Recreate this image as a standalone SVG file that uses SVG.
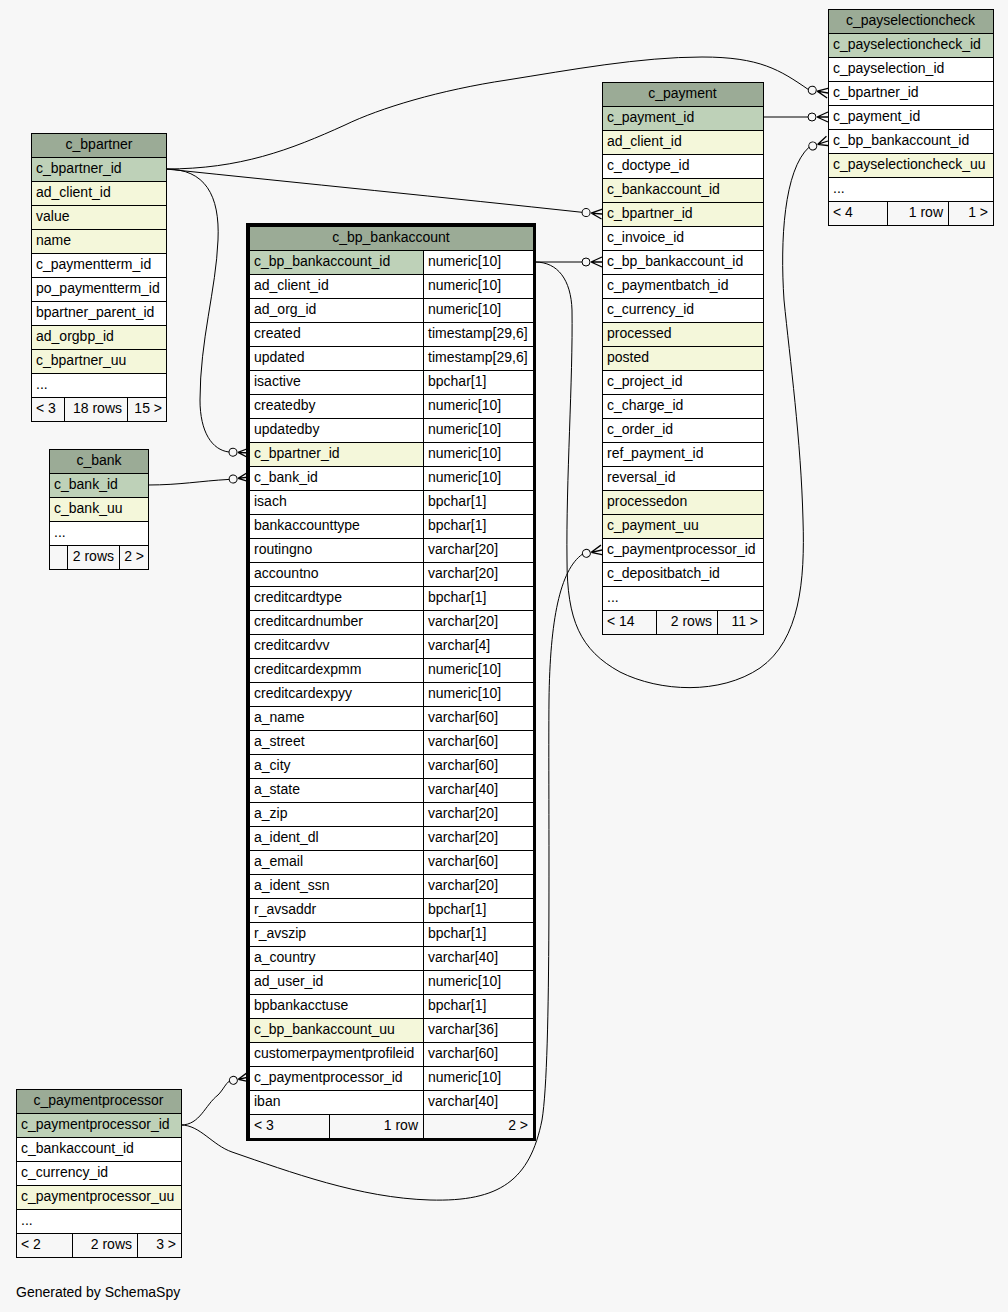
<svg xmlns="http://www.w3.org/2000/svg" width="1008" height="1312" viewBox="0 0 1008 1312">
<style>
.h,.k,.y,.w,.f{stroke:#000;stroke-width:1}
.h{fill:#9bab96}.k{fill:#bed1b8}.y{fill:#f4f7da}.w{fill:#fff}.f{fill:#f7f7f7}
.bg{fill:#f7f7f7;stroke:none}
.frame{fill:none;stroke:#000;stroke-width:3}
text{font-family:"Liberation Sans",Arial,Helvetica,sans-serif;font-size:14px;fill:#000}
.m{text-anchor:middle}.e{text-anchor:end}
.edge{fill:none;stroke:#000;stroke-width:1}
</style>
<defs>
<g id="cf">
<circle cx="-16" cy="0" r="4" fill="none" stroke="#000" stroke-width="1"/>
<path d="M-11,0 L0,-5 M-11,0 L0,0 M-11,0 L0,5" fill="none" stroke="#000" stroke-width="1.3"/>
</g>
</defs>
<rect class="bg" x="0" y="0" width="1008" height="1312"/>

<g id="connectors">
<path class="edge" d="M166,169 C240,169 290,150 345,125 C380,108 440,90 507,80 C570,70 640,57 702,57 C760,57 780,70 808.3,89.5"/>
<use href="#cf" transform="translate(828,93) rotate(10)"/>
<path class="edge" d="M166,169 C300,183 450,198 582.1,212.3"/>
<use href="#cf" transform="translate(602,214) rotate(5)"/>
<path class="edge" d="M166,169 C205,169 220,195 218,240 C216,290 200,340 200,400 C200,432 212,450 229,452"/>
<use href="#cf" transform="translate(249,453) rotate(3)"/>
<path class="edge" d="M148,485 C180,485 200,481 229.2,479.4"/>
<use href="#cf" transform="translate(249,477) rotate(-7)"/>
<path class="edge" d="M763,117 L808,117"/>
<use href="#cf" transform="translate(828,117)"/>
<path class="edge" d="M535,262 L582,262"/>
<use href="#cf" transform="translate(602,262)"/>
<path class="edge" d="M535,262 C558,262 571,280 572,310 C573,380 566,480 567,560 C567,620 580,650 620,672 C660,692 720,695 760,668 C800,640 805,580 803,520 C801,440 790,360 784,300 C780,240 784,170 809,147.2"/>
<use href="#cf" transform="translate(828,141) rotate(-18)"/>
<path class="edge" d="M181,1125 C200,1125 205,1105 218,1095 C223,1090 226,1083 229.4,1081.2"/>
<use href="#cf" transform="translate(249,1077) rotate(-12)"/>
<path class="edge" d="M181,1125 C200,1125 212,1145 232,1152 C290,1172 360,1198 430,1200 C500,1202 530,1180 542,1120 C552,1060 548,800 549,700 C550,620 560,570 582.4,554.2"/>
<use href="#cf" transform="translate(602,550) rotate(-12)"/>
</g>

<g id="c_bpartner">
<rect class="h" x="31.5" y="133.5" width="135" height="24"/><text class="m" x="99" y="149">c_bpartner</text>
<rect class="k" x="31.5" y="157.5" width="135" height="24"/><text x="36" y="173">c_bpartner_id</text>
<rect class="y" x="31.5" y="181.5" width="135" height="24"/><text x="36" y="197">ad_client_id</text>
<rect class="y" x="31.5" y="205.5" width="135" height="24"/><text x="36" y="221">value</text>
<rect class="y" x="31.5" y="229.5" width="135" height="24"/><text x="36" y="245">name</text>
<rect class="w" x="31.5" y="253.5" width="135" height="24"/><text x="36" y="269">c_paymentterm_id</text>
<rect class="w" x="31.5" y="277.5" width="135" height="24"/><text x="36" y="293">po_paymentterm_id</text>
<rect class="w" x="31.5" y="301.5" width="135" height="24"/><text x="36" y="317">bpartner_parent_id</text>
<rect class="y" x="31.5" y="325.5" width="135" height="24"/><text x="36" y="341">ad_orgbp_id</text>
<rect class="y" x="31.5" y="349.5" width="135" height="24"/><text x="36" y="365">c_bpartner_uu</text>
<rect class="w" x="31.5" y="373.5" width="135" height="24"/><text x="36" y="389">...</text>
<rect class="f" x="31.5" y="397.5" width="33" height="24"/><text x="36" y="413">&lt; 3</text>
<rect class="f" x="64.5" y="397.5" width="63" height="24"/><text class="e" x="122" y="413">18 rows</text>
<rect class="f" x="127.5" y="397.5" width="39" height="24"/><text class="e" x="162" y="413">15 &gt;</text>
</g>

<g id="c_bank">
<rect class="h" x="49.5" y="449.5" width="99" height="24"/><text class="m" x="99" y="465">c_bank</text>
<rect class="k" x="49.5" y="473.5" width="99" height="24"/><text x="54" y="489">c_bank_id</text>
<rect class="y" x="49.5" y="497.5" width="99" height="24"/><text x="54" y="513">c_bank_uu</text>
<rect class="w" x="49.5" y="521.5" width="99" height="24"/><text x="54" y="537">...</text>
<rect class="f" x="49.5" y="545.5" width="18" height="24"/>
<rect class="f" x="67.5" y="545.5" width="52" height="24"/><text class="e" x="114" y="561">2 rows</text>
<rect class="f" x="119.5" y="545.5" width="29" height="24"/><text class="e" x="144" y="561">2 &gt;</text>
</g>

<g id="c_bp_bankaccount">
<rect class="h" x="249.5" y="226.5" width="284" height="24"/><text class="m" x="391" y="242">c_bp_bankaccount</text>
<rect class="k" x="249.5" y="250.5" width="174" height="24"/><text x="254" y="266">c_bp_bankaccount_id</text><rect class="w" x="423.5" y="250.5" width="110" height="24"/><text x="428" y="266">numeric[10]</text>
<rect class="w" x="249.5" y="274.5" width="174" height="24"/><text x="254" y="290">ad_client_id</text><rect class="w" x="423.5" y="274.5" width="110" height="24"/><text x="428" y="290">numeric[10]</text>
<rect class="w" x="249.5" y="298.5" width="174" height="24"/><text x="254" y="314">ad_org_id</text><rect class="w" x="423.5" y="298.5" width="110" height="24"/><text x="428" y="314">numeric[10]</text>
<rect class="w" x="249.5" y="322.5" width="174" height="24"/><text x="254" y="338">created</text><rect class="w" x="423.5" y="322.5" width="110" height="24"/><text x="428" y="338">timestamp[29,6]</text>
<rect class="w" x="249.5" y="346.5" width="174" height="24"/><text x="254" y="362">updated</text><rect class="w" x="423.5" y="346.5" width="110" height="24"/><text x="428" y="362">timestamp[29,6]</text>
<rect class="w" x="249.5" y="370.5" width="174" height="24"/><text x="254" y="386">isactive</text><rect class="w" x="423.5" y="370.5" width="110" height="24"/><text x="428" y="386">bpchar[1]</text>
<rect class="w" x="249.5" y="394.5" width="174" height="24"/><text x="254" y="410">createdby</text><rect class="w" x="423.5" y="394.5" width="110" height="24"/><text x="428" y="410">numeric[10]</text>
<rect class="w" x="249.5" y="418.5" width="174" height="24"/><text x="254" y="434">updatedby</text><rect class="w" x="423.5" y="418.5" width="110" height="24"/><text x="428" y="434">numeric[10]</text>
<rect class="y" x="249.5" y="442.5" width="174" height="24"/><text x="254" y="458">c_bpartner_id</text><rect class="w" x="423.5" y="442.5" width="110" height="24"/><text x="428" y="458">numeric[10]</text>
<rect class="w" x="249.5" y="466.5" width="174" height="24"/><text x="254" y="482">c_bank_id</text><rect class="w" x="423.5" y="466.5" width="110" height="24"/><text x="428" y="482">numeric[10]</text>
<rect class="w" x="249.5" y="490.5" width="174" height="24"/><text x="254" y="506">isach</text><rect class="w" x="423.5" y="490.5" width="110" height="24"/><text x="428" y="506">bpchar[1]</text>
<rect class="w" x="249.5" y="514.5" width="174" height="24"/><text x="254" y="530">bankaccounttype</text><rect class="w" x="423.5" y="514.5" width="110" height="24"/><text x="428" y="530">bpchar[1]</text>
<rect class="w" x="249.5" y="538.5" width="174" height="24"/><text x="254" y="554">routingno</text><rect class="w" x="423.5" y="538.5" width="110" height="24"/><text x="428" y="554">varchar[20]</text>
<rect class="w" x="249.5" y="562.5" width="174" height="24"/><text x="254" y="578">accountno</text><rect class="w" x="423.5" y="562.5" width="110" height="24"/><text x="428" y="578">varchar[20]</text>
<rect class="w" x="249.5" y="586.5" width="174" height="24"/><text x="254" y="602">creditcardtype</text><rect class="w" x="423.5" y="586.5" width="110" height="24"/><text x="428" y="602">bpchar[1]</text>
<rect class="w" x="249.5" y="610.5" width="174" height="24"/><text x="254" y="626">creditcardnumber</text><rect class="w" x="423.5" y="610.5" width="110" height="24"/><text x="428" y="626">varchar[20]</text>
<rect class="w" x="249.5" y="634.5" width="174" height="24"/><text x="254" y="650">creditcardvv</text><rect class="w" x="423.5" y="634.5" width="110" height="24"/><text x="428" y="650">varchar[4]</text>
<rect class="w" x="249.5" y="658.5" width="174" height="24"/><text x="254" y="674">creditcardexpmm</text><rect class="w" x="423.5" y="658.5" width="110" height="24"/><text x="428" y="674">numeric[10]</text>
<rect class="w" x="249.5" y="682.5" width="174" height="24"/><text x="254" y="698">creditcardexpyy</text><rect class="w" x="423.5" y="682.5" width="110" height="24"/><text x="428" y="698">numeric[10]</text>
<rect class="w" x="249.5" y="706.5" width="174" height="24"/><text x="254" y="722">a_name</text><rect class="w" x="423.5" y="706.5" width="110" height="24"/><text x="428" y="722">varchar[60]</text>
<rect class="w" x="249.5" y="730.5" width="174" height="24"/><text x="254" y="746">a_street</text><rect class="w" x="423.5" y="730.5" width="110" height="24"/><text x="428" y="746">varchar[60]</text>
<rect class="w" x="249.5" y="754.5" width="174" height="24"/><text x="254" y="770">a_city</text><rect class="w" x="423.5" y="754.5" width="110" height="24"/><text x="428" y="770">varchar[60]</text>
<rect class="w" x="249.5" y="778.5" width="174" height="24"/><text x="254" y="794">a_state</text><rect class="w" x="423.5" y="778.5" width="110" height="24"/><text x="428" y="794">varchar[40]</text>
<rect class="w" x="249.5" y="802.5" width="174" height="24"/><text x="254" y="818">a_zip</text><rect class="w" x="423.5" y="802.5" width="110" height="24"/><text x="428" y="818">varchar[20]</text>
<rect class="w" x="249.5" y="826.5" width="174" height="24"/><text x="254" y="842">a_ident_dl</text><rect class="w" x="423.5" y="826.5" width="110" height="24"/><text x="428" y="842">varchar[20]</text>
<rect class="w" x="249.5" y="850.5" width="174" height="24"/><text x="254" y="866">a_email</text><rect class="w" x="423.5" y="850.5" width="110" height="24"/><text x="428" y="866">varchar[60]</text>
<rect class="w" x="249.5" y="874.5" width="174" height="24"/><text x="254" y="890">a_ident_ssn</text><rect class="w" x="423.5" y="874.5" width="110" height="24"/><text x="428" y="890">varchar[20]</text>
<rect class="w" x="249.5" y="898.5" width="174" height="24"/><text x="254" y="914">r_avsaddr</text><rect class="w" x="423.5" y="898.5" width="110" height="24"/><text x="428" y="914">bpchar[1]</text>
<rect class="w" x="249.5" y="922.5" width="174" height="24"/><text x="254" y="938">r_avszip</text><rect class="w" x="423.5" y="922.5" width="110" height="24"/><text x="428" y="938">bpchar[1]</text>
<rect class="w" x="249.5" y="946.5" width="174" height="24"/><text x="254" y="962">a_country</text><rect class="w" x="423.5" y="946.5" width="110" height="24"/><text x="428" y="962">varchar[40]</text>
<rect class="w" x="249.5" y="970.5" width="174" height="24"/><text x="254" y="986">ad_user_id</text><rect class="w" x="423.5" y="970.5" width="110" height="24"/><text x="428" y="986">numeric[10]</text>
<rect class="w" x="249.5" y="994.5" width="174" height="24"/><text x="254" y="1010">bpbankacctuse</text><rect class="w" x="423.5" y="994.5" width="110" height="24"/><text x="428" y="1010">bpchar[1]</text>
<rect class="y" x="249.5" y="1018.5" width="174" height="24"/><text x="254" y="1034">c_bp_bankaccount_uu</text><rect class="w" x="423.5" y="1018.5" width="110" height="24"/><text x="428" y="1034">varchar[36]</text>
<rect class="w" x="249.5" y="1042.5" width="174" height="24"/><text x="254" y="1058">customerpaymentprofileid</text><rect class="w" x="423.5" y="1042.5" width="110" height="24"/><text x="428" y="1058">varchar[60]</text>
<rect class="w" x="249.5" y="1066.5" width="174" height="24"/><text x="254" y="1082">c_paymentprocessor_id</text><rect class="w" x="423.5" y="1066.5" width="110" height="24"/><text x="428" y="1082">numeric[10]</text>
<rect class="w" x="249.5" y="1090.5" width="174" height="24"/><text x="254" y="1106">iban</text><rect class="w" x="423.5" y="1090.5" width="110" height="24"/><text x="428" y="1106">varchar[40]</text>
<rect class="f" x="249.5" y="1114.5" width="80" height="24"/><text x="254" y="1130">&lt; 3</text>
<rect class="f" x="329.5" y="1114.5" width="94" height="24"/><text class="e" x="418" y="1130">1 row</text>
<rect class="f" x="423.5" y="1114.5" width="110" height="24"/><text class="e" x="528" y="1130">2 &gt;</text>
<rect class="frame" x="247.5" y="224.5" width="287" height="915"/>
</g>

<g id="c_payment">
<rect class="h" x="602.5" y="82.5" width="161" height="24"/><text class="m" x="682.5" y="98">c_payment</text>
<rect class="k" x="602.5" y="106.5" width="161" height="24"/><text x="607" y="122">c_payment_id</text>
<rect class="y" x="602.5" y="130.5" width="161" height="24"/><text x="607" y="146">ad_client_id</text>
<rect class="w" x="602.5" y="154.5" width="161" height="24"/><text x="607" y="170">c_doctype_id</text>
<rect class="y" x="602.5" y="178.5" width="161" height="24"/><text x="607" y="194">c_bankaccount_id</text>
<rect class="y" x="602.5" y="202.5" width="161" height="24"/><text x="607" y="218">c_bpartner_id</text>
<rect class="w" x="602.5" y="226.5" width="161" height="24"/><text x="607" y="242">c_invoice_id</text>
<rect class="w" x="602.5" y="250.5" width="161" height="24"/><text x="607" y="266">c_bp_bankaccount_id</text>
<rect class="w" x="602.5" y="274.5" width="161" height="24"/><text x="607" y="290">c_paymentbatch_id</text>
<rect class="w" x="602.5" y="298.5" width="161" height="24"/><text x="607" y="314">c_currency_id</text>
<rect class="y" x="602.5" y="322.5" width="161" height="24"/><text x="607" y="338">processed</text>
<rect class="y" x="602.5" y="346.5" width="161" height="24"/><text x="607" y="362">posted</text>
<rect class="w" x="602.5" y="370.5" width="161" height="24"/><text x="607" y="386">c_project_id</text>
<rect class="w" x="602.5" y="394.5" width="161" height="24"/><text x="607" y="410">c_charge_id</text>
<rect class="w" x="602.5" y="418.5" width="161" height="24"/><text x="607" y="434">c_order_id</text>
<rect class="w" x="602.5" y="442.5" width="161" height="24"/><text x="607" y="458">ref_payment_id</text>
<rect class="w" x="602.5" y="466.5" width="161" height="24"/><text x="607" y="482">reversal_id</text>
<rect class="y" x="602.5" y="490.5" width="161" height="24"/><text x="607" y="506">processedon</text>
<rect class="y" x="602.5" y="514.5" width="161" height="24"/><text x="607" y="530">c_payment_uu</text>
<rect class="w" x="602.5" y="538.5" width="161" height="24"/><text x="607" y="554">c_paymentprocessor_id</text>
<rect class="w" x="602.5" y="562.5" width="161" height="24"/><text x="607" y="578">c_depositbatch_id</text>
<rect class="w" x="602.5" y="586.5" width="161" height="24"/><text x="607" y="602">...</text>
<rect class="f" x="602.5" y="610.5" width="54" height="24"/><text x="607" y="626">&lt; 14</text>
<rect class="f" x="656.5" y="610.5" width="61" height="24"/><text class="e" x="712" y="626">2 rows</text>
<rect class="f" x="717.5" y="610.5" width="46" height="24"/><text class="e" x="758" y="626">11 &gt;</text>
</g>

<g id="c_payselectioncheck">
<rect class="h" x="828.5" y="9.5" width="165" height="24"/><text class="m" x="910.5" y="25">c_payselectioncheck</text>
<rect class="k" x="828.5" y="33.5" width="165" height="24"/><text x="833" y="49">c_payselectioncheck_id</text>
<rect class="w" x="828.5" y="57.5" width="165" height="24"/><text x="833" y="73">c_payselection_id</text>
<rect class="w" x="828.5" y="81.5" width="165" height="24"/><text x="833" y="97">c_bpartner_id</text>
<rect class="w" x="828.5" y="105.5" width="165" height="24"/><text x="833" y="121">c_payment_id</text>
<rect class="w" x="828.5" y="129.5" width="165" height="24"/><text x="833" y="145">c_bp_bankaccount_id</text>
<rect class="y" x="828.5" y="153.5" width="165" height="24"/><text x="833" y="169">c_payselectioncheck_uu</text>
<rect class="w" x="828.5" y="177.5" width="165" height="24"/><text x="833" y="193">...</text>
<rect class="f" x="828.5" y="201.5" width="59" height="24"/><text x="833" y="217">&lt; 4</text>
<rect class="f" x="887.5" y="201.5" width="61" height="24"/><text class="e" x="943" y="217">1 row</text>
<rect class="f" x="948.5" y="201.5" width="45" height="24"/><text class="e" x="988" y="217">1 &gt;</text>
</g>

<g id="c_paymentprocessor">
<rect class="h" x="16.5" y="1089.5" width="165" height="24"/><text class="m" x="98.5" y="1105">c_paymentprocessor</text>
<rect class="k" x="16.5" y="1113.5" width="165" height="24"/><text x="21" y="1129">c_paymentprocessor_id</text>
<rect class="w" x="16.5" y="1137.5" width="165" height="24"/><text x="21" y="1153">c_bankaccount_id</text>
<rect class="w" x="16.5" y="1161.5" width="165" height="24"/><text x="21" y="1177">c_currency_id</text>
<rect class="y" x="16.5" y="1185.5" width="165" height="24"/><text x="21" y="1201">c_paymentprocessor_uu</text>
<rect class="w" x="16.5" y="1209.5" width="165" height="24"/><text x="21" y="1225">...</text>
<rect class="f" x="16.5" y="1233.5" width="56" height="24"/><text x="21" y="1249">&lt; 2</text>
<rect class="f" x="72.5" y="1233.5" width="65" height="24"/><text class="e" x="132" y="1249">2 rows</text>
<rect class="f" x="137.5" y="1233.5" width="44" height="24"/><text class="e" x="176" y="1249">3 &gt;</text>
</g>

<text x="16" y="1297">Generated by SchemaSpy</text>
</svg>
